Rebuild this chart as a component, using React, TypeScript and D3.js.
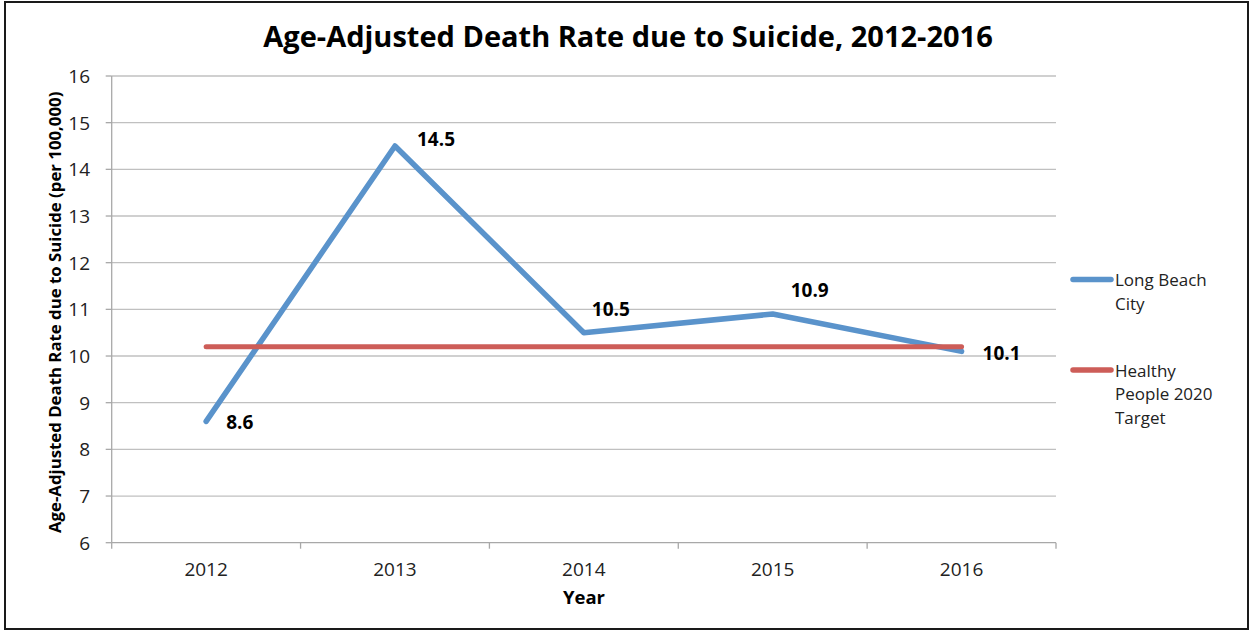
import React from "react";
import * as d3 from "d3";

const years = ["2012", "2013", "2014", "2015", "2016"];
const longBeach = [8.6, 14.5, 10.5, 10.9, 10.1];
const target = [10.2, 10.2, 10.2, 10.2, 10.2];
const yTicks = [6, 7, 8, 9, 10, 11, 12, 13, 14, 15, 16];
const legendItems = [
  { lines: ["Long Beach", "City"], key: "lb" },
  { lines: ["Healthy", "People 2020", "Target"], key: "hp" },
];
// label placement (dx from point, baseline dy from point)
const labelOffsets: [number, number][] = [
  [20, 8],
  [22, 0],
  [8, -17],
  [18, -17],
  [21, 9],
];

const W = 1252;
const H = 631;
const FONT = "'Open Sans', 'Noto Sans', sans-serif";
const BLUE = "#5a93cb";
const RED = "#cd5d58";

export default function App() {
  const left = 111.7;
  const right = 1056;
  const top = 76;
  const bottom = 542.7;

  const x = d3.scaleBand<string>().domain(years).range([left, right]);
  const y = d3.scaleLinear().domain([6, 16]).range([bottom, top]);
  const cx = (yr: string) => (x(yr) as number) + x.bandwidth() / 2;

  const line = d3
    .line<number>()
    .x((_, i) => cx(years[i]))
    .y((v) => y(v));

  const boundaries = years.map((yr) => x(yr) as number).concat([right]);
  const legendColors = [BLUE, RED];
  const legendY = [279.5, 370];
  const legendLine = 23.5;

  return (
    <svg
      width={W}
      height={H}
      style={{ position: "absolute", left: 0, top: 0, background: "#fff" }}
      fontFamily={FONT}
    >
      <rect x={0} y={0} width={W} height={H} fill="#fff" />
      <rect x={5} y={2} width={1243} height={627} fill="none" stroke="#1a1a1a" strokeWidth={2} />

      {/* title */}
      <text x={628} y={47} textAnchor="middle" fontSize={29} fontWeight="bold" fill="#000">
        Age-Adjusted Death Rate due to Suicide, 2012-2016
      </text>

      {/* grid */}
      {yTicks.slice(1).map((t) => (
        <line key={t} x1={left} x2={right} y1={y(t)} y2={y(t)} stroke="#c0c0c0" strokeWidth={1.3} />
      ))}

      {/* axes */}
      <line x1={left} x2={left} y1={top} y2={bottom} stroke="#a8a8a8" strokeWidth={1.3} />
      <line x1={left} x2={right} y1={bottom} y2={bottom} stroke="#a8a8a8" strokeWidth={1.3} />
      {yTicks.map((t) => (
        <line key={"yt" + t} x1={left - 6} x2={left} y1={y(t)} y2={y(t)} stroke="#a8a8a8" strokeWidth={1.3} />
      ))}
      {boundaries.map((b, i) => (
        <line key={"xt" + i} x1={b} x2={b} y1={bottom} y2={bottom + 6} stroke="#a8a8a8" strokeWidth={1.3} />
      ))}

      {/* tick labels */}
      {yTicks.map((t) => (
        <text key={"yl" + t} x={90} y={y(t)} dy="0.36em" textAnchor="end" fontSize={19} fill="#222">
          {t}
        </text>
      ))}
      {years.map((yr) => (
        <text key={"xl" + yr} x={cx(yr)} y={576} textAnchor="middle" fontSize={19} fill="#222">
          {yr}
        </text>
      ))}

      {/* axis titles */}
      <text
        transform={`translate(55, ${(top + bottom) / 2 + 3}) rotate(-90)`}
        dy="0.35em"
        textAnchor="middle"
        fontSize={16.8}
        fontWeight="bold"
        fill="#000"
      >
        Age-Adjusted Death Rate due to Suicide (per 100,000)
      </text>
      <text x={584} y={604} textAnchor="middle" fontSize={18.5} fontWeight="bold" fill="#000">
        Year
      </text>

      {/* series */}
      <path d={line(longBeach) || ""} fill="none" stroke={BLUE} strokeWidth={5.5} strokeLinejoin="round" strokeLinecap="round" />
      <path d={line(target) || ""} fill="none" stroke={RED} strokeWidth={5} strokeLinecap="round" />

      {/* data labels */}
      {longBeach.map((v, i) => (
        <text
          key={"dl" + i}
          x={cx(years[i]) + labelOffsets[i][0]}
          y={y(v) + labelOffsets[i][1]}
          fontSize={19}
          fontWeight="bold"
          fill="#000"
        >
          {v.toFixed(1)}
        </text>
      ))}

      {/* legend */}
      {legendItems.map((item, i) => (
        <g key={item.key}>
          <line
            x1={1073}
            x2={1111}
            y1={legendY[i]}
            y2={legendY[i]}
            stroke={legendColors[i]}
            strokeWidth={5.5}
            strokeLinecap="round"
          />
          {item.lines.map((ln, j) => (
            <text key={j} x={1115} y={legendY[i] + 6.5 + j * legendLine} fontSize={17} fill="#222">
              {ln}
            </text>
          ))}
        </g>
      ))}
    </svg>
  );
}
